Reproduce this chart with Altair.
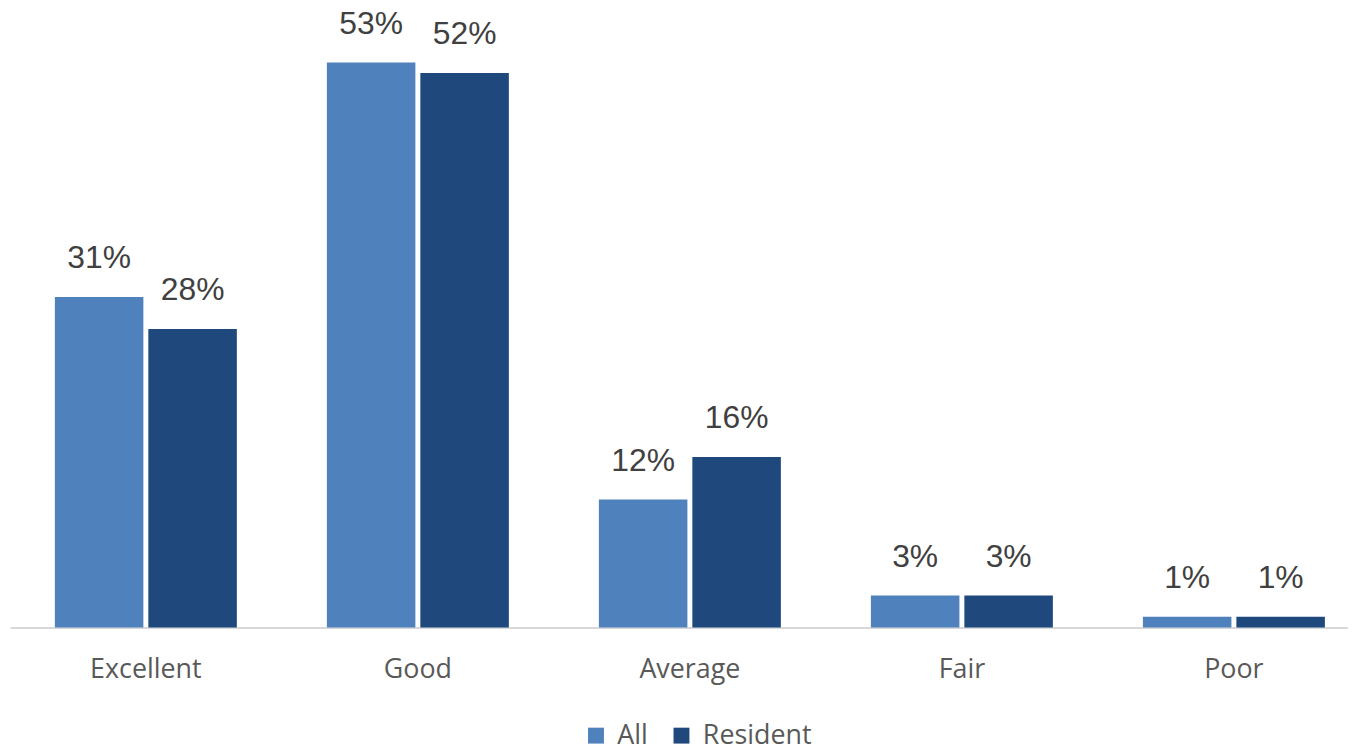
import altair as alt
import pandas as pd

categories = ["Excellent", "Good", "Average", "Fair", "Poor"]
series = ["All", "Resident"]
all_values = [31, 53, 12, 3, 1]
resident_values = [28, 52, 16, 3, 1]

rows = []
for c, a, r in zip(categories, all_values, resident_values):
    rows.append({"category": c, "series": "All", "value": a, "label": f"{a}%"})
    rows.append({"category": c, "series": "Resident", "value": r, "label": f"{r}%"})
df = pd.DataFrame(rows)

x_enc = alt.X(
    "category:N",
    sort=categories,
    title=None,
    scale=alt.Scale(paddingInner=0.331, paddingOuter=0.125, align=0.66),
    axis=alt.Axis(
        labelAngle=0,
        labelFont="Open Sans",
        labelFontSize=27,
        labelColor="#595959",
        labelPadding=29,
        ticks=False,
        domainColor="#D9D9D9",
        domainWidth=2,
        grid=False,
    ),
)
y_enc = alt.Y("value:Q", scale=alt.Scale(domain=[0, 57.9], nice=False), axis=None)
xoff = alt.XOffset("series:N", sort=series, scale=alt.Scale(paddingInner=0.053, paddingOuter=0))

bars = alt.Chart(df).mark_bar().encode(
    x=x_enc,
    y=y_enc,
    xOffset=xoff,
    color=alt.Color(
        "series:N",
        sort=series,
        scale=alt.Scale(domain=series, range=["#4F81BD", "#1F497D"]),
        legend=alt.Legend(
            title=None,
            orient="none",
            legendX=576,
            legendY=716,
            direction="horizontal",
            symbolType="square",
            symbolSize=256,
            symbolStrokeWidth=0,
            labelFont="Open Sans",
            labelFontSize=27,
            labelColor="#595959",
            columnPadding=20,
            labelOffset=8,
        ),
    ),
)

labels = alt.Chart(df).mark_text(
    font="Liberation Sans",
    fontSize=32,
    color="#404040",
    baseline="alphabetic",
    dy=-29,
).encode(
    x=alt.X("category:N", sort=categories),
    y=y_enc,
    xOffset=xoff,
    text="label:N",
)

chart = (
    alt.layer(bars, labels)
    .properties(
        width=1346,
        height=621,
        autosize=alt.AutoSizeParams(type="none"),
        padding={"left": 2, "top": 0, "right": 0, "bottom": 124},
    )
    .configure_view(stroke=None)
)

chart.save("out.html", embed_options={"renderer": "svg", "actions": False})
